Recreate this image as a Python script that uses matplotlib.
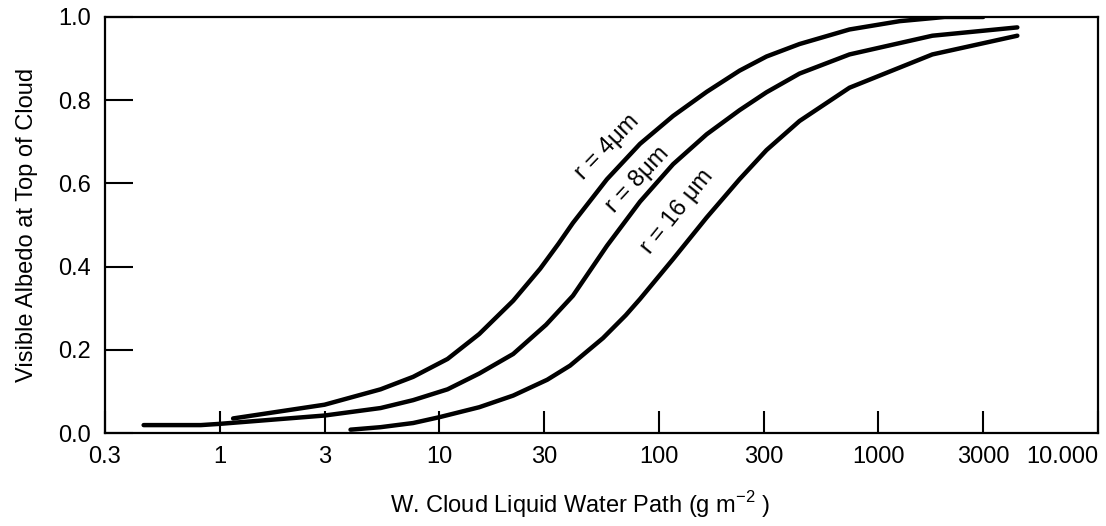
import matplotlib
matplotlib.use('Agg')
import matplotlib.pyplot as plt
import numpy as np

plt.rcParams['font.family'] = ['Liberation Sans', 'DejaVu Sans']
plt.rcParams['mathtext.fontset'] = 'custom'
plt.rcParams['mathtext.rm'] = 'Liberation Sans'

# liquid water path (g m-2) and visible albedo
lwp_r4 = [1.15, 3.0, 5.4, 7.6, 10.9, 15.2, 21.7, 28.8, 34.9, 40.6, 58, 82, 116, 165, 233, 309, 437, 738, 1250, 2000, 3000]
alb_r4 = [0.035, 0.068, 0.105, 0.135, 0.178, 0.238, 0.318, 0.395, 0.455, 0.505, 0.61, 0.695, 0.762, 0.82, 0.871, 0.905, 0.935, 0.97, 0.99, 1.0, 1.0]

lwp_r8 = [0.45, 0.82, 1.0, 3.0, 5.4, 7.6, 10.9, 15.2, 21.7, 30.6, 40.6, 58, 82, 116, 165, 233, 309, 437, 738, 1760, 4290]
alb_r8 = [0.019, 0.019, 0.022, 0.042, 0.06, 0.079, 0.105, 0.143, 0.19, 0.26, 0.33, 0.45, 0.556, 0.646, 0.718, 0.776, 0.819, 0.864, 0.91, 0.955, 0.975]

lwp_r16 = [3.94, 5.4, 7.6, 10, 15.2, 21.7, 31, 39.4, 55.6, 70.6, 82, 116, 165, 233, 309, 437, 738, 1760, 4290]
alb_r16 = [0.008, 0.014, 0.024, 0.038, 0.062, 0.09, 0.128, 0.162, 0.228, 0.283, 0.322, 0.418, 0.518, 0.61, 0.68, 0.75, 0.83, 0.91, 0.955]

xticks = [0.3, 1, 3, 10, 30, 100, 300, 1000, 3000, 10000]
xticklabels = ['0.3', '1', '3', '10', '30', '100', '300', '1000', '3000', '10.000']
yticks = [0.0, 0.2, 0.4, 0.6, 0.8, 1.0]

fig = plt.figure(figsize=(11.06, 5.26), dpi=100)
ax = fig.add_axes([0.0949, 0.1768, 0.8979, 0.7909])

for x, y in [(lwp_r4, alb_r4), (lwp_r8, alb_r8), (lwp_r16, alb_r16)]:
    ax.plot(x, y, color='black', lw=3.2, solid_capstyle='round', solid_joinstyle='round')

ax.set_xscale('log')
ax.set_xlim(0.3, 10000)
ax.set_ylim(0, 1.0)

ax.xaxis.set_minor_locator(matplotlib.ticker.NullLocator())
ax.set_xticks(xticks)
ax.set_xticklabels(xticklabels)
ax.set_yticks(yticks)
ax.set_yticklabels(['%.1f' % v for v in yticks])
ax.tick_params(axis='x', direction='in', length=16, width=1.5, pad=9, labelsize=17)
ax.tick_params(axis='y', direction='in', length=20, width=1.5, pad=10, labelsize=17)
for t in ax.get_xticklabels():
    if t.get_text() == '10.000':
        t.set_ha('right')

for s in ax.spines.values():
    s.set_linewidth(1.6)

ax.set_xlabel(r'W. Cloud Liquid Water Path (g m$^{-2}$ )', fontsize=17)
ax.xaxis.label.set_va('center')
ax.xaxis.set_label_coords(0.478, -0.173)
ax.set_ylabel('Visible Albedo at Top of Cloud', fontsize=17)
ax.yaxis.label.set_va('center')
ax.yaxis.set_label_coords(-0.078, 0.5)

# curve labels, placed in figure pixels (from bottom-left)
H = 526
ax.text(607, H - 147, 'r = 4\u03bcm', transform=None, fontsize=17, rotation=46, ha='center', va='center')
ax.text(638, H - 180, 'r = 8\u03bcm', transform=None, fontsize=17, rotation=47, ha='center', va='center')
ax.text(677, H - 212, 'r = 16 \u03bcm', transform=None, fontsize=17, rotation=51, ha='center', va='center')

fig.savefig('out.png', dpi=100)
